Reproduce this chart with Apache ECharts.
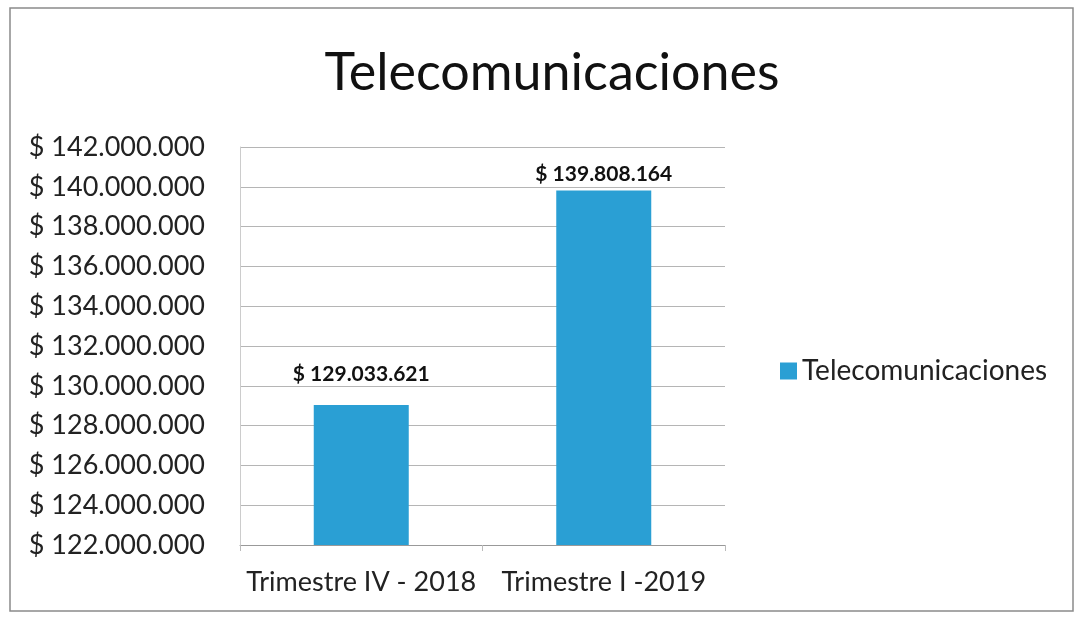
<!DOCTYPE html>
<html>
<head>
<meta charset="utf-8">
<script src="https://cdn.jsdelivr.net/npm/echarts@6/dist/echarts.min.js"></script>
<style>
html,body{margin:0;padding:0;background:#fff;}
#main{width:1079px;height:619px;}
</style>
</head>
<body>
<div id="main"></div>
<script>
var categories = ['Trimestre IV - 2018', 'Trimestre I -2019'];
var seriesName = 'Telecomunicaciones';
var values = [129033621, 139808164];
var yMin = 122000000, yMax = 142000000, yStep = 2000000;

function fmt(v) {
  var s = Math.round(v).toString();
  return '$ ' + s.replace(/\B(?=(\d{3})+(?!\d))/g, '.');
}

var labelDistances = [20, 6];
var chart = echarts.init(document.getElementById('main'));
var font = 'Lato, "Open Sans", sans-serif';
chart.setOption({
  animation: false,
  title: {
    text: 'Telecomunicaciones',
    left: 547, top: 42, textAlign: 'center',
    textStyle: {fontFamily: font, fontSize: 52, fontWeight: 'normal', color: '#111'}
  },
  graphic: [{
    type: 'rect', shape: {x: 10, y: 8, width: 1063, height: 603},
    style: {fill: 'none', stroke: '#8a8a8a', lineWidth: 1.5}, silent: true
  }],
  legend: {
    data: [seriesName], left: 775, top: 352, itemWidth: 17, itemHeight: 17, itemGap: 8,
    icon: 'rect',
    textStyle: {fontFamily: font, fontSize: 28, color: '#222'}
  },
  grid: {left: 240, right: 354, top: 147, bottom: 74},
  xAxis: {
    type: 'category', data: categories,
    axisLine: {lineStyle: {color: '#999'}},
    axisTick: {show: true, lineStyle: {color: '#bbb'}, length: 6},
    axisLabel: {interval: 0, fontFamily: font, fontSize: 27, color: '#222', margin: 24}
  },
  yAxis: {
    type: 'value', min: yMin, max: yMax, interval: yStep,
    axisLine: {show: true, lineStyle: {color: '#ccc'}},
    axisTick: {show: false},
    splitLine: {lineStyle: {color: '#b5b5b5'}},
    axisLabel: {fontFamily: font, fontSize: 27, color: '#222', margin: 35, formatter: fmt}
  },
  series: [{
    name: seriesName, type: 'bar', barWidth: 95,
    data: values.map(function (v, i) { return {value: v, label: {distance: labelDistances[i]}}; }),
    itemStyle: {color: '#2A9FD4'},
    label: {
      show: true, position: 'top', formatter: function (p) { return fmt(p.value); },
      fontFamily: font, fontSize: 21, fontWeight: 'bold', color: '#111'
    }
  }]
});
</script>
</body>
</html>
